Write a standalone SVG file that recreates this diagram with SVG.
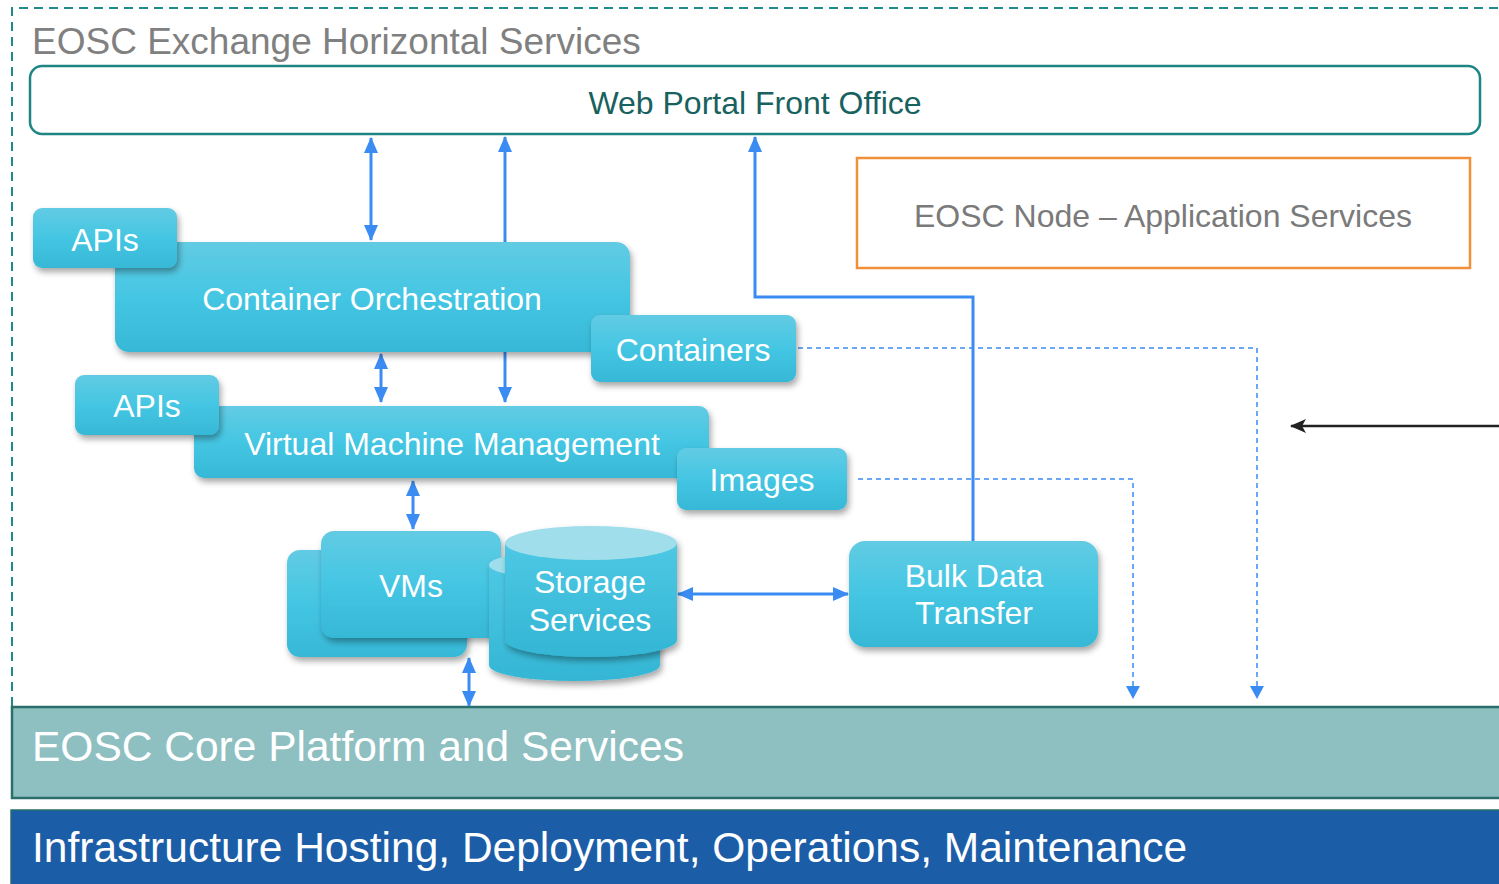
<svg xmlns="http://www.w3.org/2000/svg" width="1499" height="884" viewBox="0 0 1499 884">
<defs>
<style>
.t{font-family:"Liberation Sans",Arial,sans-serif;}
.w{fill:#ffffff;font-size:32px;text-anchor:middle;}
.box{fill:url(#cy);filter:url(#sh);}
.c{stroke:#3a8cf2;stroke-width:3;fill:none;}
.d{stroke:#3a8cf2;stroke-width:1.5;fill:none;stroke-dasharray:5,4;}
</style>
<linearGradient id="cy" x1="0" y1="0" x2="0" y2="1">
<stop offset="0" stop-color="#62cbe3"/>
<stop offset="0.5" stop-color="#44c6e3"/>
<stop offset="1" stop-color="#36b8d6"/>
</linearGradient>
<linearGradient id="cyl" x1="0" y1="0" x2="0" y2="1">
<stop offset="0" stop-color="#4ec8e4"/>
<stop offset="1" stop-color="#33b6d4"/>
</linearGradient>
<filter id="sh" x="-10%" y="-10%" width="125%" height="140%">
<feDropShadow dx="2" dy="4" stdDeviation="3" flood-color="#000" flood-opacity="0.35"/>
</filter>
<marker id="ah" viewBox="0 0 16 14" refX="15" refY="7" markerWidth="16" markerHeight="14" markerUnits="userSpaceOnUse" orient="auto-start-reverse">
<path d="M0,0 L16,7 L0,14 Z" fill="#3a8cf2"/>
</marker>
<marker id="ahs" viewBox="0 0 13 14" refX="12" refY="7" markerWidth="13" markerHeight="14" markerUnits="userSpaceOnUse" orient="auto">
<path d="M0,0 L13,7 L0,14 Z" fill="#3a8cf2"/>
</marker>
<marker id="ahk" viewBox="0 0 16 14" refX="15" refY="7" markerWidth="16" markerHeight="14" markerUnits="userSpaceOnUse" orient="auto">
<path d="M0,0 L16,7 L0,14 L4,7 Z" fill="#222"/>
</marker>
</defs>
<rect width="1499" height="884" fill="#ffffff"/>

<g id="exchange-frame">
<path d="M12,706 L12,8 L1499,8" fill="none" stroke="#1e8a8a" stroke-width="2" stroke-dasharray="9,6"/>
<text class="t" x="32" y="54" font-size="37" fill="#808080">EOSC Exchange Horizontal Services</text>
</g>

<g id="web-portal">
<rect x="30" y="66" width="1450" height="68" rx="12" fill="#ffffff" stroke="#1e8585" stroke-width="2.5"/>
<text class="t" x="755" y="114" font-size="32" fill="#17625f" text-anchor="middle">Web Portal Front Office</text>
</g>

<g id="eosc-node">
<rect x="857" y="158" width="613" height="110" fill="#ffffff" stroke="#f09038" stroke-width="2.5"/>
<text class="t" x="1163" y="227" font-size="32" fill="#7a7a7a" text-anchor="middle">EOSC Node – Application Services</text>
</g>

<g id="core-platform">
<rect x="12" y="707" width="1492" height="91" fill="#8ec0c2" stroke="#2a6f6b" stroke-width="2.5"/>
<text class="t" x="32" y="761" font-size="42.5" fill="#ffffff">EOSC Core Platform and Services</text>
</g>

<g id="infrastructure">
<rect x="11" y="810" width="1492" height="78" fill="#1c5da8" stroke="#2a6f6b" stroke-width="1.5"/>
<text class="t" x="32" y="862" font-size="42.5" fill="#ffffff">Infrastructure Hosting, Deployment, Operations, Maintenance</text>
</g>

<g id="connectors">
<line class="c" x1="371" y1="138" x2="371" y2="240" marker-start="url(#ah)" marker-end="url(#ah)"/>
<line class="c" x1="505" y1="242" x2="505" y2="137" marker-end="url(#ah)"/>
<polyline class="c" points="973,541 973,297 755,297 755,137" marker-end="url(#ah)"/>
<line class="c" x1="381" y1="354" x2="381" y2="402" marker-start="url(#ah)" marker-end="url(#ah)"/>
<line class="c" x1="505" y1="352" x2="505" y2="402" marker-end="url(#ah)"/>
<line class="c" x1="413" y1="481" x2="413" y2="529" marker-start="url(#ah)" marker-end="url(#ah)"/>
<line class="c" x1="469" y1="658" x2="469" y2="706" marker-start="url(#ah)" marker-end="url(#ah)"/>
<line class="c" x1="678" y1="594" x2="848" y2="594" marker-start="url(#ah)" marker-end="url(#ah)"/>
<polyline class="d" points="798,348 1257,348 1257,698" marker-end="url(#ahs)"/>
<polyline class="d" points="858,479 1133,479 1133,698" marker-end="url(#ahs)"/>
<line x1="1499" y1="426" x2="1291" y2="426" stroke="#222" stroke-width="2.5" marker-end="url(#ahk)"/>
</g>

<g id="container-orchestration">
<rect class="box" x="115" y="242" width="515" height="110" rx="14"/>
<text class="t w" x="372" y="310">Container Orchestration</text>
</g>
<g id="apis-1">
<rect class="box" x="33" y="208" width="144" height="60" rx="9"/>
<text class="t w" x="105" y="251">APIs</text>
</g>
<g id="containers">
<rect class="box" x="591" y="315" width="205" height="67" rx="9"/>
<text class="t w" x="693" y="361">Containers</text>
</g>

<g id="vm-management">
<rect class="box" x="194" y="406" width="515" height="72" rx="10"/>
<text class="t w" x="452" y="455">Virtual Machine Management</text>
</g>
<g id="apis-2">
<rect class="box" x="75" y="375" width="144" height="60" rx="9"/>
<text class="t w" x="147" y="417">APIs</text>
</g>
<g id="images">
<rect class="box" x="677" y="448" width="170" height="62" rx="9"/>
<text class="t w" x="762" y="491">Images</text>
</g>

<g id="vms">
<rect class="box" x="287" y="550" width="180" height="107" rx="13"/>
<rect class="box" x="321" y="531" width="180" height="107" rx="13"/>
<text class="t w" x="411" y="597">VMs</text>
</g>

<g id="storage-services">
<g filter="url(#sh)">
<path d="M489,565 L489,665 A85,16 0 0 0 660,665 L660,565 Z" fill="url(#cyl)"/>
<ellipse cx="574.5" cy="565" rx="85.5" ry="15" fill="#9fdeec"/>
</g>
<g filter="url(#sh)">
<path d="M505,543 L505,640 A86,17 0 0 0 677,640 L677,543 Z" fill="url(#cyl)"/>
<ellipse cx="591" cy="543" rx="86" ry="17" fill="#a0deec"/>
</g>
<text class="t w" x="590" y="593">Storage</text>
<text class="t w" x="590" y="631">Services</text>
</g>

<g id="bulk-data-transfer">
<rect class="box" x="849" y="541" width="249" height="106" rx="16"/>
<text class="t w" x="974" y="587">Bulk Data</text>
<text class="t w" x="974" y="624">Transfer</text>
</g>
</svg>
